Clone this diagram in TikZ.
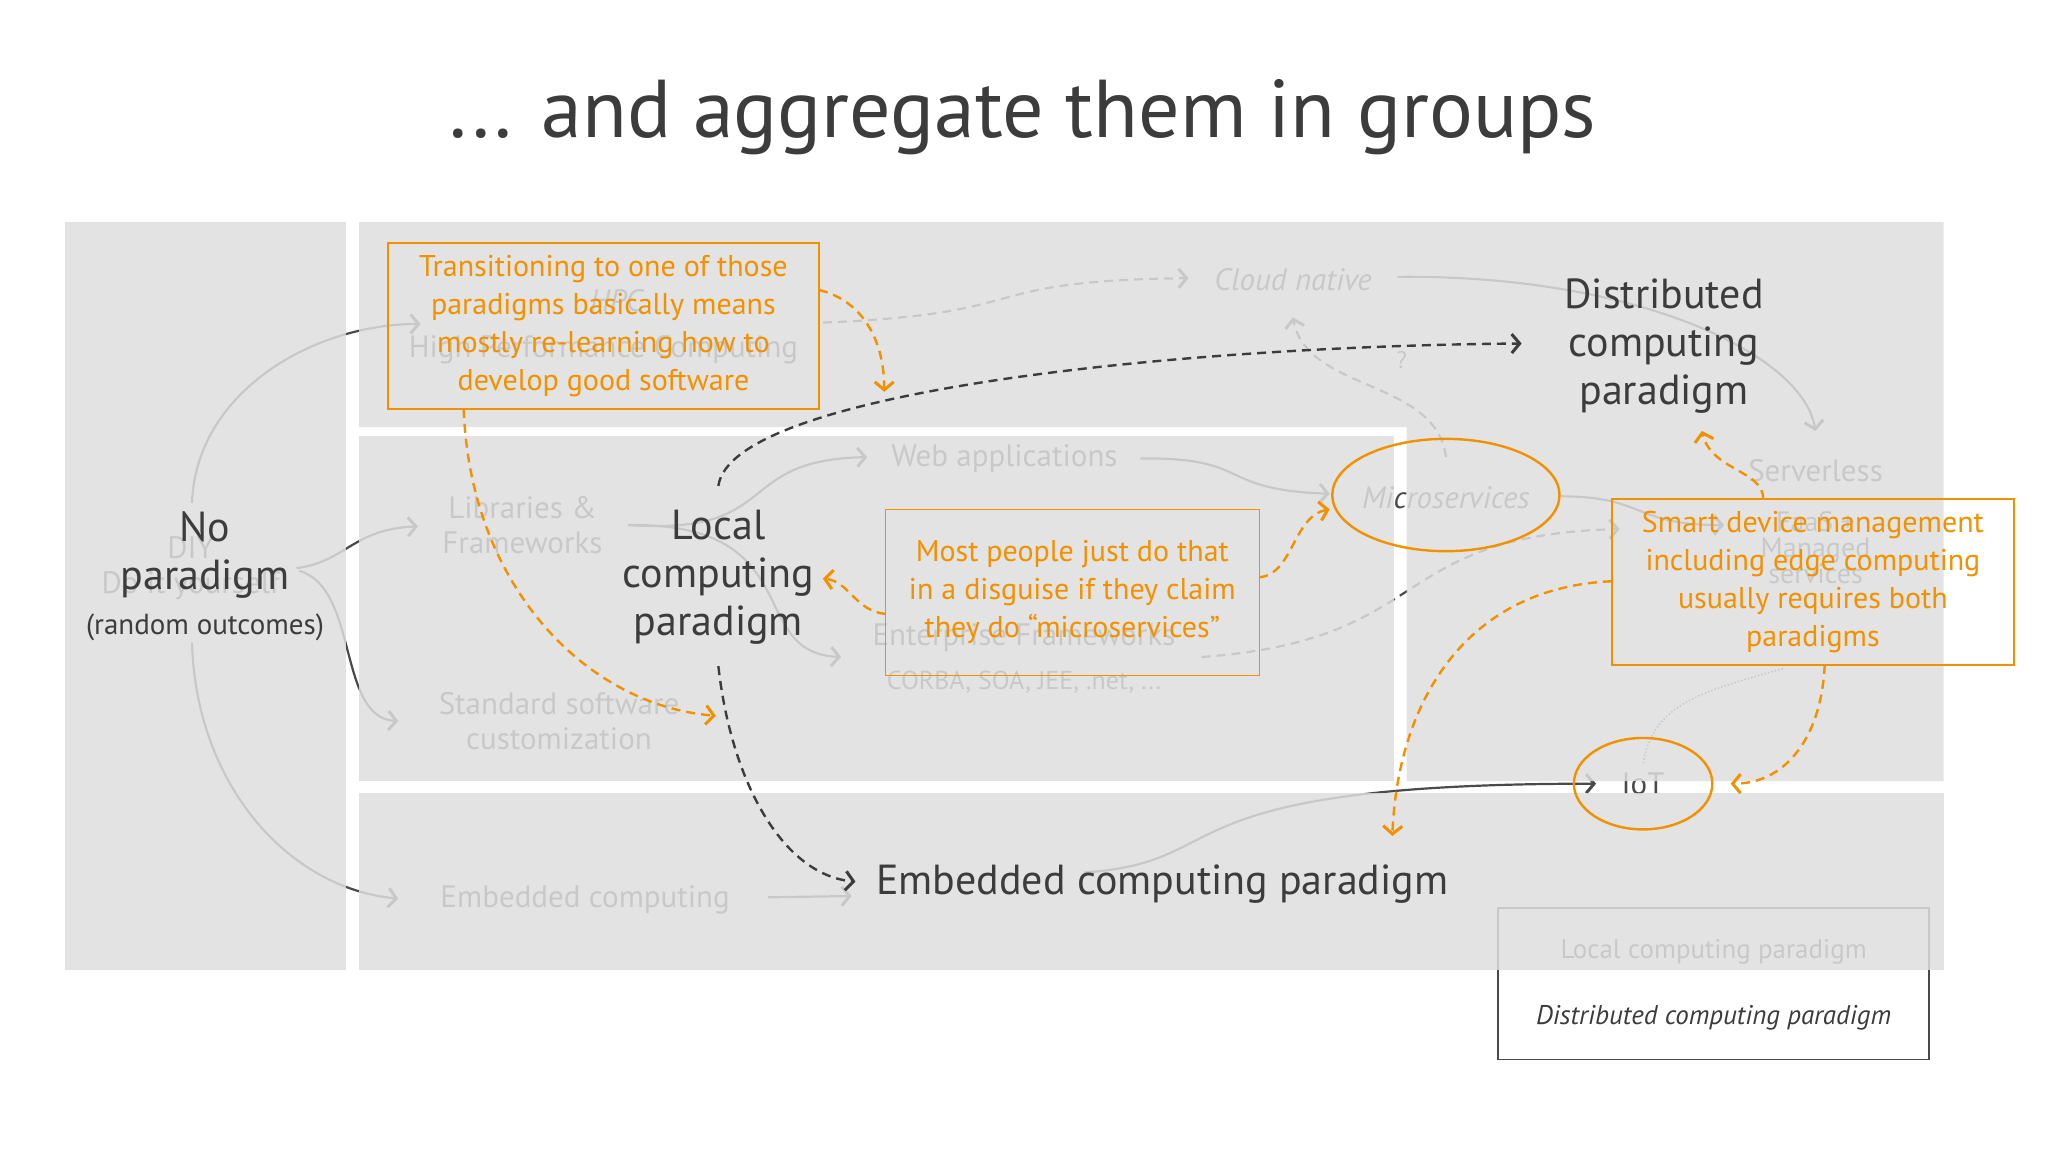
\documentclass[tikz,border=0pt]{standalone}
\usepackage{fontspec}
\setmainfont{PT Sans}
\usetikzlibrary{arrows.meta}
\definecolor{panel}{HTML}{DFDFDF}
\definecolor{dk}{HTML}{3C3C3C}
\definecolor{und}{HTML}{4A4A4A}
\definecolor{org}{HTML}{F29100}
\tikzset{
  big/.style={text=dk,align=center,font=\fontsize{42}{48}\selectfont},
  faint/.style={text=und,align=center,font=\fontsize{31}{35}\selectfont},
  otext/.style={text=org,align=center,font=\fontsize{30}{38}\selectfont,draw=org,line width=1.5pt,minimum width=#1},
  tip/.style={-{Straight Barb[length=8pt,width=19pt,line width=3pt]}},
  uline/.style={draw=und,line width=2.2pt,tip},
  udash/.style={uline,dash pattern=on 9pt off 6pt},
  dline/.style={draw=dk,line width=2.4pt,tip,dash pattern=on 9pt off 6pt},
  oline/.style={draw=org,line width=2.4pt,tip,dash pattern=on 9pt off 6pt},
  oell/.style={draw=org,line width=2.4pt},
}
\begin{document}
\begin{tikzpicture}[x=1.306pt,y=-1.306pt]
\useasboundingbox[fill=white] (0,0) rectangle (1568,881.3);
% ---------- under layer ----------
\begin{scope}
\node[faint] (libs) at (400,402) {Libraries \&\\Frameworks};
\node[faint] (std) at (428,552) {Standard software\\customization};
\node[faint] (emb) at (448,689) {Embedded computing};
\node[faint] (web) at (769,351) {Web applications};
\node[faint] (ent) at (784,488) {Enterprise Frameworks};
\node[faint,font=\fontsize{26}{30}\selectfont] (corba) at (784,522) {CORBA, SOA, JEE, .net, ...};
\node[faint,font=\itshape\fontsize{31}{35}\selectfont] (cloud) at (990,214) {Cloud native};
\node[faint,font=\itshape\fontsize{31}{35}\selectfont] (hpc) at (472,230) {HPC};
\node[faint] (hpcl) at (462,268) {High Performance Computing};
\node[faint,font=\itshape\fontsize{31}{35}\selectfont] (micro) at (1107,381) {Microservices};
\node[faint] (srv) at (1390,360) {Serverless};
\node[faint,font=\fontsize{28}{26}\selectfont] (faas) at (1390,419) {FaaS +\\Managed\\services};
\node[faint] (iot) at (1258,600) {IoT};
\node[faint,font=\fontsize{24}{26}\selectfont] (q) at (1073,276) {?};
\node[faint] (diy) at (146,435) {DIY\\Do it yourself};
\draw[uline] (147,385) .. controls (150,300) and (240,248) .. (322,248);
\draw[uline] (227,435) .. controls (265,430) and (270,405) .. (320,403);
\draw[uline] (229,437) .. controls (275,450) and (258,550) .. (305,552);
\draw[uline] (147,492) .. controls (150,600) and (220,680) .. (305,688);
\draw[uline] (481,402) .. controls (600,410) and (560,352) .. (664,350);
\draw[uline] (481,402) .. controls (620,400) and (570,500) .. (644,503);
\draw[uline] (588,687) -- (652,686);
\draw[uline] (873,351) .. controls (960,350) and (930,375) .. (1018,378);
\draw[uline] (1070,212) .. controls (1250,210) and (1380,270) .. (1390,330);
\draw[udash] (630,247) .. controls (800,240) and (740,215) .. (910,213);
\draw[udash] (1107,350) .. controls (1100,290) and (1000,300) .. (990,243);
\draw[uline] (1195,380) .. controls (1260,380) and (1250,402) .. (1320,402);
\draw[udash] (920,503) .. controls (1100,490) and (1060,410) .. (1240,405);
\draw[und,line width=1.5pt,dotted] (1365,512) .. controls (1300,530) and (1265,540) .. (1258,585);
\draw[uline] (830,668) .. controls (950,660) and (880,600) .. (1222,600);
% legend
\draw[draw=und,line width=1.5pt] (1147,695) rectangle (1477,811);
\node[faint,font=\fontsize{27}{30}\selectfont] (lg1) at (1312,729) {Local computing paradigm};
\node[text=dk,font=\itshape\fontsize{27}{30}\selectfont] (lg2) at (1312,779) {Distributed computing paradigm};
\end{scope}
% ---------- panels ----------
\begin{scope}[fill=panel,fill opacity=0.85]
\fill (50,170) rectangle (265,743);
\fill (275,170) -- (1488,170) -- (1488,598) -- (1077,598) -- (1077,327) -- (275,327) -- cycle;
\fill (275,334) rectangle (1067,598);
\fill (275,607) rectangle (1488,743);
\end{scope}
% ---------- top layer ----------
\node[text=dk,font=\fontsize{82}{88}\selectfont] (title) at (783,90) {... and aggregate them in groups};
\node[big] (nop) at (157,425) {No\\paradigm};
\node[text=dk,font=\fontsize{29}{32}\selectfont] (rnd) at (157,480) {(random outcomes)};
\node[big] (loc) at (550,442) {Local\\computing\\paradigm};
\node[big] (dist) at (1274,265) {Distributed\\computing\\paradigm};
\node[big,anchor=west] (embp) at (668,677) {Embedded computing paradigm};
\node[otext=431pt,minimum height=166pt] (b1) at (462,249.5) {Transitioning to one of those\\paradigms basically means\\mostly re-learning how to\\develop good software};
\node[otext=374pt,minimum height=166pt] (b2) at (821,453.5) {Most people just do that\\in a disguise if they claim\\they do “microservices”};
\node[otext=402pt,minimum height=166pt] (b3) at (1388,445.5) {Smart device management\\including edge computing\\usually requires both\\paradigms};
\draw[oell] (1107,379) ellipse [x radius=87,y radius=43];
\draw[oell] (1258,600) ellipse [x radius=53,y radius=35];
\draw[dline] (550,372) .. controls (560,300) and (900,265) .. (1165,263);
\draw[dline] (550,510) .. controls (560,600) and (600,670) .. (655,675);
\draw[oline] (627,222) .. controls (660,230) and (677,260) .. (677,300);
\draw[oline] (355,313) .. controls (360,450) and (450,540) .. (548,548);
\draw[oline] (678,470) .. controls (655,468) and (650,445) .. (630,443);
\draw[oline] (964,442) .. controls (990,440) and (990,395) .. (1018,390);
\draw[oline] (1350,382) .. controls (1350,360) and (1310,360) .. (1303,330);
\draw[oline] (1234,445) .. controls (1120,450) and (1070,540) .. (1066,640);
\draw[oline] (1397,509) .. controls (1395,560) and (1370,600) .. (1325,600);
\end{tikzpicture}
\end{document}
